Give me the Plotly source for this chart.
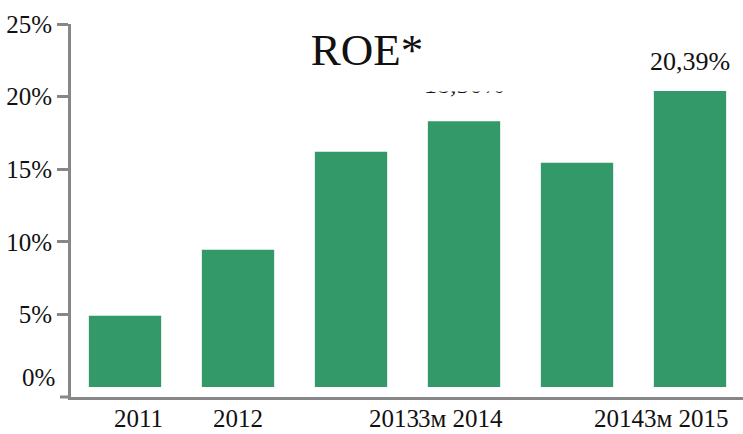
import plotly.graph_objects as go

categories = ["2011", "2012", "2013", "3м 2014", "2014", "3м 2015"]
roe_values = [4.9, 9.45, 16.2, 18.3, 15.45, 20.39]
label_categories = ["3м 2014", "3м 2015"]
label_values = [18.3, 20.39]
label_texts = ["18,30%", "20,39%"]
y_tick_vals = [0, 5, 10, 15, 20, 25]
y_tick_text = ["0%", "5%", "10%", "15%", "20%", "25%"]
title_text = "ROE*"

FONT = "Liberation Serif"
AXIS = "#878787"
BAR = "#349968"

fig = go.Figure()
fig.add_trace(go.Bar(x=categories, y=roe_values, marker=dict(color=BAR, line=dict(width=0)),
                     width=0.64, hoverinfo="skip"))

annotations = []
label_shift = {"3м 2014": 20, "3м 2015": 13}
for c, v, t in zip(label_categories, label_values, label_texts):
    annotations.append(dict(x=categories.index(c), y=v, xref="x", yref="y", text=t, showarrow=False,
                            yanchor="bottom", yshift=label_shift[c],
                            font=dict(family=FONT, size=26, color="#111")))

# title annotation with white background that covers part of a label (as in the original)
annotations.append(dict(x=0.4405, y=(434 - 50 - 37) / 373, xref="paper", yref="paper",
                        text=title_text, showarrow=False, xanchor="center", yanchor="middle",
                        width=280, height=82, bgcolor="white", borderpad=0,
                        font=dict(family=FONT, size=45, color="#111")))

# category labels below axis
xshifts = [13, 0, 43, -4, 42, -4]
for i, c in enumerate(categories):
    annotations.append(dict(x=i, y=0, xref="x", yref="paper", text=c, showarrow=False,
                            yanchor="middle", yshift=-21, xshift=xshifts[i],
                            font=dict(family=FONT, size=25, color="#111")))

fig.update_layout(
    width=743, height=434,
    margin=dict(l=71, r=0, t=24, b=37, autoexpand=False),
    paper_bgcolor="white", plot_bgcolor="white",
    showlegend=False,
    bargap=0.36,
    annotations=annotations,
    xaxis=dict(range=[-0.478, 5.469], showticklabels=False, ticks="", showgrid=False,
               showline=True, linecolor=AXIS, linewidth=3, zeroline=False, automargin=False),
    yaxis=dict(range=[-0.69, 25], tickvals=y_tick_vals[1:], ticktext=y_tick_text[1:],
               ticks="outside", ticklen=11, tickwidth=3, tickcolor=AXIS, automargin=False,
               showline=True, linecolor=AXIS, linewidth=3, showgrid=False, zeroline=False,
               tickfont=dict(family=FONT, size=25, color="#111")),
    shapes=[dict(type="line", xref="paper", yref="paper", x0=-11 / 672, x1=0, y0=0, y1=0,
                 line=dict(color=AXIS, width=3))],
)
# 0% label drawn like the original (slightly above the bar base)
fig.add_annotation(x=0, y=0, xref="paper", yref="y", text=y_tick_text[0], showarrow=False,
                   xanchor="right", xshift=-14, yshift=9,
                   font=dict(family=FONT, size=25, color="#111"))

fig.write_html("out.html", config={"displayModeBar": False},
               post_script="document.body.style.margin='0px';")
